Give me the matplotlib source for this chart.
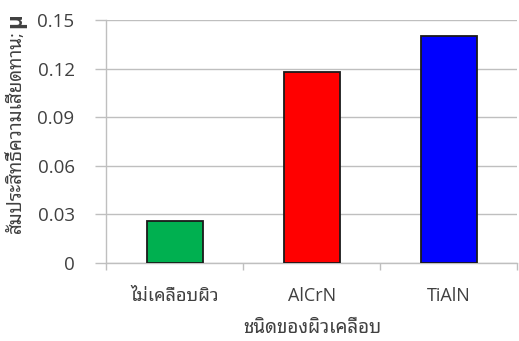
import matplotlib
matplotlib.use("Agg")
import matplotlib.pyplot as plt

plt.rcParams['font.family'] = ['Open Sans', 'Noto Sans Thai Looped', 'DejaVu Sans']

# friction coefficient per coating type
coatings = ['ไม่เคลือบผิว', 'AlCrN', 'TiAlN']
friction = [0.026, 0.118, 0.140]
bar_colors = ['#00B050', '#FF0000', '#0000FF']
yticks = [0, 0.03, 0.06, 0.09, 0.12, 0.15]
ytick_labels = ['0', '0.03', '0.06', '0.09', '0.12', '0.15']

text_color = '#404040'
grid_color = '#BFBFBF'

fig = plt.figure(figsize=(5.19, 3.41), dpi=100)
ax = fig.add_axes([0.2052, 0.2287, 0.7918, 0.7126])

x = list(range(len(coatings)))
ax.bar(x, friction, width=0.41, color=bar_colors, edgecolor='#1a1a1a',
       linewidth=1.3, zorder=3)

ax.set_xlim(-0.5, len(coatings) - 0.5)
ax.set_ylim(0, 0.15)
ax.set_yticks(yticks)
ax.set_yticklabels(ytick_labels)
ax.yaxis.grid(True, color=grid_color, linewidth=1.0, zorder=0)

# category labels sit between boundary tick marks
ax.set_xticks(x)
ax.set_xticklabels(coatings)
ax.set_xticks([i - 0.5 for i in range(len(coatings) + 1)], minor=True)
ax.tick_params(axis='x', which='major', length=0, pad=17, labelsize=13,
               labelcolor=text_color)
ax.tick_params(axis='x', which='minor', length=5, width=1.0, color=grid_color)
ax.tick_params(axis='y', length=8, width=1.0, color=grid_color, pad=15,
               labelsize=13.5, labelcolor=text_color)

for side in ['top', 'right']:
    ax.spines[side].set_visible(False)
for side in ['left', 'bottom']:
    ax.spines[side].set_color(grid_color)
    ax.spines[side].set_linewidth(1.0)

ax.set_xlabel('ชนิดของผิวเคลือบ', fontsize=13.5, color=text_color, labelpad=10)

# y label: Thai text with a bold mu on top
ylab = fig.text(0.03, 0.317, 'สัมประสิทธิ์ความเสียดทาน;', rotation=90,
                ha='center', va='bottom', fontsize=13.5, color=text_color)
fig.canvas.draw()
bb = ylab.get_window_extent().transformed(fig.transFigure.inverted())
fig.text(0.03, bb.y1 + 0.005, 'μ', rotation=90, ha='center', va='bottom',
         fontsize=16, fontweight='bold', color=text_color)

fig.savefig('out.png', dpi=100)
